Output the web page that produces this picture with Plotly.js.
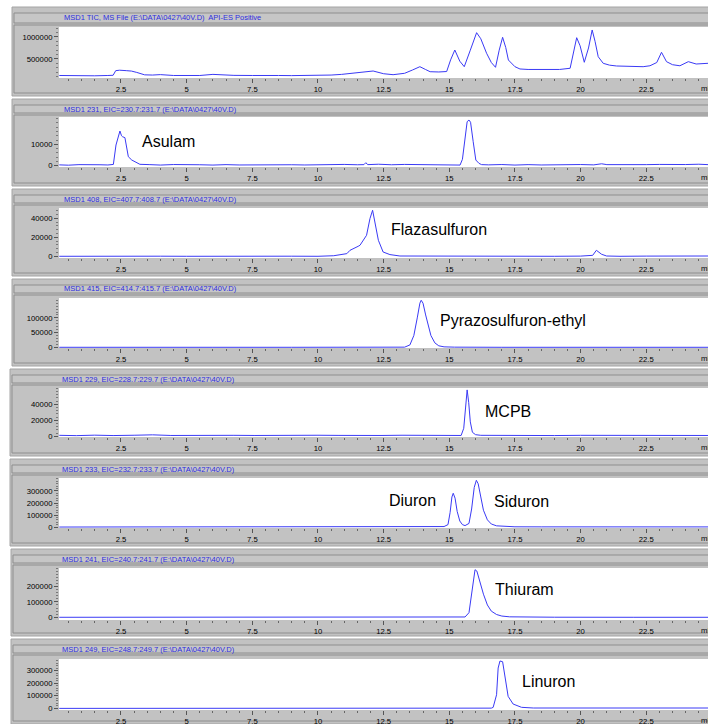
<!DOCTYPE html>
<html>
<head>
<meta charset="utf-8">
<script src="https://cdn.plot.ly/plotly-3.0.1.min.js"></script>
<style>html,body{margin:0;padding:0;background:#fff;}#chart{width:708px;height:724px;}</style>
</head>
<body>
<div id="chart"></div>
<script>
// ---------- DATA ----------
var headerTexts = [
  "MSD1 TIC, MS File (E:\\DATA\\0427\\40V.D)  API-ES Positive",
  "MSD1 231, EIC=230.7:231.7 (E:\\DATA\\0427\\40V.D)",
  "MSD1 408, EIC=407.7:408.7 (E:\\DATA\\0427\\40V.D)",
  "MSD1 415, EIC=414.7:415.7 (E:\\DATA\\0427\\40V.D)",
  "MSD1 229, EIC=228.7:229.7 (E:\\DATA\\0427\\40V.D)",
  "MSD1 233, EIC=232.7:233.7 (E:\\DATA\\0427\\40V.D)",
  "MSD1 241, EIC=240.7:241.7 (E:\\DATA\\0427\\40V.D)",
  "MSD1 249, EIC=248.7:249.7 (E:\\DATA\\0427\\40V.D)"
];
var compoundLabels = ["Asulam","Flazasulfuron","Pyrazosulfuron-ethyl","MCPB","Diuron","Siduron","Thiuram","Linuron"];
var xTickVals = [2.5,5,7.5,10,12.5,15,17.5,20,22.5];
var xTickText = ["2.5","5","7.5","10","12.5","15","17.5","20","22.5"];
var yTicks1 = [500000,1000000];
var yTicks2 = [0,10000];
var yTicks3 = [0,20000,40000];
var yTicks4 = [0,50000,100000];
var yTicks5 = [0,20000,40000];
var yTicks6 = [0,100000,200000,300000];
var yTicks7 = [0,100000,200000];
var yTicks8 = [0,100000,200000,300000];

var ticT = [0.15,0.6,1.0,1.5,2.0,2.2,2.3,2.45,2.7,2.9,3.1,3.4,3.7,4.0,4.5,5.0,5.5,6.0,6.3,6.8,7.5,8.0,8.5,9.0,9.5,10.0,10.5,10.9,11.2,11.6,12.1,12.5,12.86,13.3,13.6,13.88,14.1,14.27,14.6,14.9,15.05,15.21,15.4,15.57,15.8,16.04,16.2,16.42,16.6,16.76,16.9,17.03,17.15,17.25,17.5,17.69,18.0,18.5,18.83,19.2,19.6,19.72,19.85,19.98,20.14,20.3,20.44,20.55,20.67,20.86,21.1,21.37,21.8,22.1,22.38,22.64,22.9,23.08,23.27,23.5,23.78,24.1,24.4,24.85];
var ticI = [125000,120000,125000,118000,125000,130000,235000,245000,235000,225000,195000,140000,135000,145000,125000,122000,125000,150000,140000,128000,125000,118000,125000,122000,125000,125000,135000,150000,175000,195000,227000,165000,143000,175000,250000,325000,260000,211000,205000,215000,480000,704000,450000,325000,700000,1098000,960000,630000,420000,311000,700000,993000,760000,477000,325000,273000,262000,255000,257000,262000,289000,600000,984000,800000,425000,750000,1159000,900000,552000,402000,360000,341000,330000,322000,325000,346000,420000,652000,439000,370000,346000,439000,386000,402000];

var ion231T = [0.15,0.5,0.9,1.3,1.7,2.0,2.21,2.31,2.38,2.46,2.52,2.56,2.65,2.72,2.78,2.91,3.05,3.22,3.6,4.0,4.5,5.0,5.5,6.0,6.5,7.0,7.5,8.0,8.5,9.0,9.5,10.0,10.5,11.0,11.5,11.75,11.82,11.9,12.3,12.8,13.3,13.8,14.3,14.8,15.2,15.41,15.5,15.6,15.68,15.75,15.81,15.91,16.01,16.13,16.23,16.5,17.0,17.5,18.0,18.5,19.0,19.5,20.0,20.5,20.8,21.0,21.5,22.0,22.5,23.0,23.5,24.0,24.5,24.85];
var ion231I = [400,250,500,300,450,350,600,9670,12500,16200,14000,13550,13100,8000,4200,2660,1600,650,500,300,550,350,450,300,500,350,400,550,300,450,350,500,400,600,450,500,1400,500,700,450,600,500,400,550,450,300,3000,12800,20560,21350,20280,11200,2660,1100,500,400,550,300,500,350,450,300,550,400,900,500,450,350,500,600,400,550,700,500];

var ion408T = [0.15,1,2,3,4,5,6,7,8,9,10,10.6,11.1,11.22,11.53,11.6,11.85,11.98,12.08,12.17,12.3,12.48,12.74,13.12,14,15,16,17,18,19,20,20.46,20.6,20.8,20.99,21.5,22.5,23.5,24.85];
var ion408I = [0,150,0,300,100,0,200,0,150,100,0,600,2800,6300,10500,11600,22100,39700,48400,36100,16800,4500,1800,300,200,0,150,0,100,0,200,1000,6300,2100,300,0,200,0,300];

var ion415T = [0.15,1.0,3,6,9,12,13.0,13.3,13.5,13.65,13.78,13.88,13.93,14.0,14.1,14.2,14.3,14.45,14.6,14.8,15.2,17,20,24.85];
var ion415I = [0,300,0,0,0,0,200,500,8000,40000,100000,150000,160000,150000,110000,70000,40000,15000,5000,1500,500,0,0,0];

var ion229T = [0.15,0.8,1.5,2.2,3.0,3.7,4.4,5.2,6.0,6.8,7.6,8.4,9.2,10,10.8,11.6,12.4,13.2,14.0,14.8,15.45,15.55,15.62,15.68,15.74,15.8,15.88,16.0,16.2,17,18,19,20,21,22,23,24,24.85];
var ion229I = [1200,800,1400,900,1300,1800,1000,1300,800,1200,1000,1400,900,1300,1100,1500,1000,1300,900,1200,1000,10000,40000,58000,42000,18000,5000,2000,1200,1000,1300,900,1200,1000,1400,1000,1200,1000];

var ion233T = [0.15,3,6,9,10.6,10.85,11.1,11.5,12.5,13.5,14.5,14.8,14.95,15.03,15.1,15.15,15.22,15.3,15.4,15.5,15.6,15.75,15.85,15.95,16.03,16.1,16.2,16.3,16.45,16.6,16.8,17.1,17.5,18.5,20,22,24.85];
var ion233I = [0,0,0,0,0,5000,6000,3000,2000,1500,2000,4000,20000,120000,250000,281000,240000,130000,50000,20000,12000,30000,150000,330000,389000,360000,250000,140000,60000,25000,10000,4000,2000,1500,1000,1000,1000];

var ion241T = [0.15,5,10,13,15,15.6,15.75,15.85,15.93,15.98,16.05,16.15,16.3,16.45,16.6,16.8,17.0,17.3,17.8,19,22,24.85];
var ion241I = [0,0,0,0,1000,2000,30000,150000,270000,309000,300000,240000,150000,80000,40000,18000,8000,3000,1500,500,0,0];

var ion249T = [0.15,2.2,2.35,3.0,3.3,3.6,4.1,4.2,8,12,15.4,15.6,15.8,16.6,16.67,16.8,16.86,16.93,17.03,17.12,17.24,17.43,17.75,18.2,20,24.85];
var ion249I = [-3000,-3000,2000,1000,-1000,2000,2000,-3000,-3000,-2000,-2000,3000,-1000,-1000,5000,107000,322000,379000,373000,242000,94000,32000,5600,0,-1000,0];

// ---------- LAYOUT GEOMETRY (pixels) ----------
var W = 708, H = 724;
var series = [[ticT,ticI],[ion231T,ion231I],[ion408T,ion408I],[ion415T,ion415I],[ion229T,ion229I],[ion233T,ion233I],[ion241T,ion241I],[ion249T,ion249I]];
var yTicks = [yTicks1,yTicks2,yTicks3,yTicks4,yTicks5,yTicks6,yTicks7,yTicks8];
var panels = [
  {left:12, top:7,   hTop:13,  hBot:23,  pTop:27,  pBot:78,  bottom:96,  range:[68000,1227000], minor:100000, tx:62},
  {left:12, top:99,  hTop:105, hBot:113, pTop:117, pBot:167, bottom:186, range:[-600,22750],   minor:2000,   tx:62},
  {left:12, top:189, hTop:195, hBot:203, pTop:208, pBot:258, bottom:276, range:[-1800,50800],  minor:4000,   tx:62},
  {left:12, top:279, hTop:285, hBot:293, pTop:298, pBot:348, bottom:366, range:[-2400,167700], minor:10000,  tx:62},
  {left:10, top:369, hTop:375, hBot:383, pTop:388, pBot:437, bottom:456, range:[-900,60400],   minor:4000,   tx:60},
  {left:10, top:459, hTop:465, hBot:473, pTop:478, pBot:528, bottom:546, range:[-8000,408000], minor:20000,  tx:60},
  {left:11, top:549, hTop:555, hBot:563, pTop:568, pBot:620, bottom:636, range:[-17600,320000],minor:20000,  tx:60},
  {left:11, top:639, hTop:645, hBot:653, pTop:659, pBot:710, bottom:724, range:[-16000,395000],minor:20000,  tx:60}
];
var labelPos = [[140,141],[389,229],[438,320],[483,411],[387,500],[492,501],[493,589],[520,681]];
var plotLeft = 59;
var xRange = [0.14, 24.85];

function px(x){return x/W;}
function py(y){return 1 - y/H;}

var traces = [], shapes = [], annotations = [];
var layout = {
  width:W, height:H, margin:{l:0,r:0,t:0,b:0,pad:0},
  paper_bgcolor:'#ffffff', plot_bgcolor:'rgba(0,0,0,0)',
  showlegend:false, font:{family:'Liberation Sans, Arial, sans-serif', size:8, color:'#000'}
};
var tickFont = {family:'Liberation Sans, Arial, sans-serif', size:7.7, color:'#000'};

panels.forEach(function(p, i){
  var n = i + 1;
  var xa = 'xaxis' + (n===1?'':n), ya = 'yaxis' + (n===1?'':n);
  var xr = 'x' + (n===1?'':n), yr = 'y' + (n===1?'':n);
  traces.push({
    x: series[i][0], y: series[i][1], xaxis: xr, yaxis: yr,
    type:'scatter', mode:'lines', line:{color:'#3a3af5', width:1}, hoverinfo:'skip'
  });
  layout[xa] = {
    domain:[px(plotLeft), 1], anchor: yr, range: xRange, showgrid:false, zeroline:false,
    showline:false, tickmode:'array', tickvals:xTickVals, ticktext:xTickText,
    ticks:'outside', ticklen:4, tickwidth:1, tickcolor:'#555', tickfont:tickFont,
    minor:{ticks:'outside', ticklen:2, dtick:0.5, tick0:0, tickcolor:'#666', showgrid:false}
  };
  layout[ya] = {
    domain:[py(p.pBot), py(p.pTop)], anchor: xr, range: p.range, showgrid:false, zeroline:false,
    showline:false, tickmode:'array', tickvals:yTicks[i], ticktext:yTicks[i].map(String),
    ticks:'outside', ticklen:4, tickwidth:1, tickcolor:'#555', tickfont:tickFont,
    minor:{ticks:'outside', ticklen:2, dtick:p.minor, tick0:0, tickcolor:'#777', showgrid:false}
  };
  // outer gray frame
  shapes.push({type:'rect', xref:'paper', yref:'paper', layer:'below',
    x0:px(p.left), x1:px(W+2), y0:py(p.bottom), y1:py(p.top),
    fillcolor:'#c2c2c2', line:{color:'#a4a4a4', width:1}});
  // header bar
  shapes.push({type:'rect', xref:'paper', yref:'paper', layer:'below',
    x0:px(p.left+2), x1:px(W+2), y0:py(p.hBot), y1:py(p.hTop),
    fillcolor:'#c6c6c6', line:{color:'#8e8e8e', width:1}});
  // plot box
  shapes.push({type:'rect', xref:'paper', yref:'paper', layer:'below',
    x0:px(p.left+2), x1:px(W+2), y0:py(p.bottom-3), y1:py(p.hBot+2),
    fillcolor:'#c2c2c2', line:{color:'#8e8e8e', width:1}});
  // white plotting area
  shapes.push({type:'rect', xref:'paper', yref:'paper', layer:'below',
    x0:px(plotLeft), x1:px(W+2), y0:py(p.pBot), y1:py(p.pTop),
    fillcolor:'#ffffff', line:{width:0}});
  // header text
  annotations.push({xref:'paper', yref:'paper', x:px(p.tx), y:py((p.hTop+p.hBot)/2),
    xanchor:'left', yanchor:'middle', showarrow:false, text:headerTexts[i],
    font:{family:'Liberation Sans, Arial, sans-serif', size:7.5, color:'#2d2de0'}});
  // "min" unit label
  annotations.push({xref:'paper', yref:'paper', x:px(699), y:py(p.pBot+10),
    xanchor:'left', yanchor:'middle', showarrow:false, text:'min', font:tickFont});
});

// compound labels
compoundLabels.forEach(function(t, k){
  annotations.push({xref:'paper', yref:'paper', x:px(labelPos[k][0]), y:py(labelPos[k][1]),
    xanchor:'left', yanchor:'middle', showarrow:false, text:t,
    font:{family:'Liberation Sans, Arial, sans-serif', size:16, color:'#000'}});
});

layout.shapes = shapes;
layout.annotations = annotations;

Plotly.newPlot('chart', traces, layout, {staticPlot:true, displayModeBar:false});
</script>
</body>
</html>
